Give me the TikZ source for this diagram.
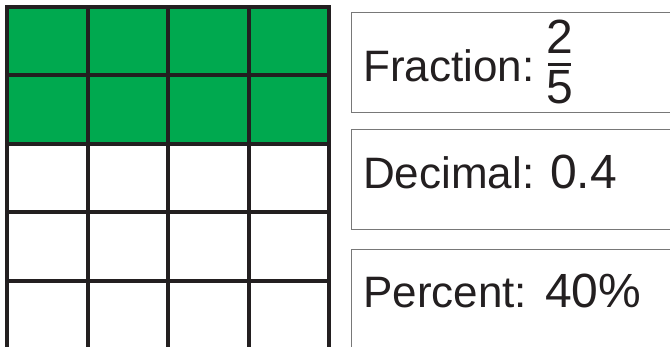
\documentclass[tikz,border=0pt]{standalone}
\usepackage{fontspec}
\setmainfont{Liberation Sans}
\definecolor{cellgreen}{RGB}{0,169,79}
\definecolor{gridblack}{RGB}{35,31,32}
\definecolor{boxgray}{RGB}{120,120,120}
\tikzset{
  gridline/.style={gridblack, line width=4pt, line cap=rect},
  infobox/.style={draw=boxgray, line width=1pt, minimum width=340pt, minimum height=100pt, anchor=north west, inner sep=0pt},
  infotext/.style={font=\fontsize{44}{50}\selectfont, text=gridblack, anchor=base west, inner sep=0pt},
  numtext/.style={infotext, font=\fontsize{48}{54}\selectfont},
  fracbar/.style={gridblack, line width=3pt},
}
\begin{document}
\begin{tikzpicture}[x=1pt,y=-1pt]
\useasboundingbox (0,0) rectangle (670,347);

% Grid size
\def\cellW{80.5}
\def\cellH{68.5}
\def\gridX{7}
\def\gridY{7}

% Shaded part (2 rows of 5)
\fill[cellgreen] (\gridX,\gridY) rectangle (\gridX+4*\cellW,\gridY+2*\cellH);

% Grid lines
\foreach \i in {0,...,4}
  \draw[gridline] (\gridX+\i*\cellW,\gridY) -- (\gridX+\i*\cellW,\gridY+5*\cellH);
\foreach \j in {0,...,5}
  \draw[gridline] (\gridX,\gridY+\j*\cellH) -- (\gridX+4*\cellW,\gridY+\j*\cellH);

% Boxes
\node[infobox] (fracbox) at (351,12) {};
\node[infobox] (decbox) at (351,129) {};
\node[infobox] (pctbox) at (351,249) {};

% Fraction
\node[infotext] (fraclabel) at (363,82) {Fraction:};
\node[numtext, anchor=base] (fracnum) at (559.5,54) {2};
\node[numtext, anchor=base] (fracden) at (559.5,104) {5};
\draw[fracbar] (548,65) -- (571,65);

% Decimal
\node[infotext] (declabel) at (363,189) {Decimal:};
\node[numtext] (decval) at (550,189) {0.4};

% Percent
\node[infotext] (pctlabel) at (363,308) {Percent:};
\node[numtext] (pctval) at (545,308) {40\%};

\end{tikzpicture}
\end{document}
